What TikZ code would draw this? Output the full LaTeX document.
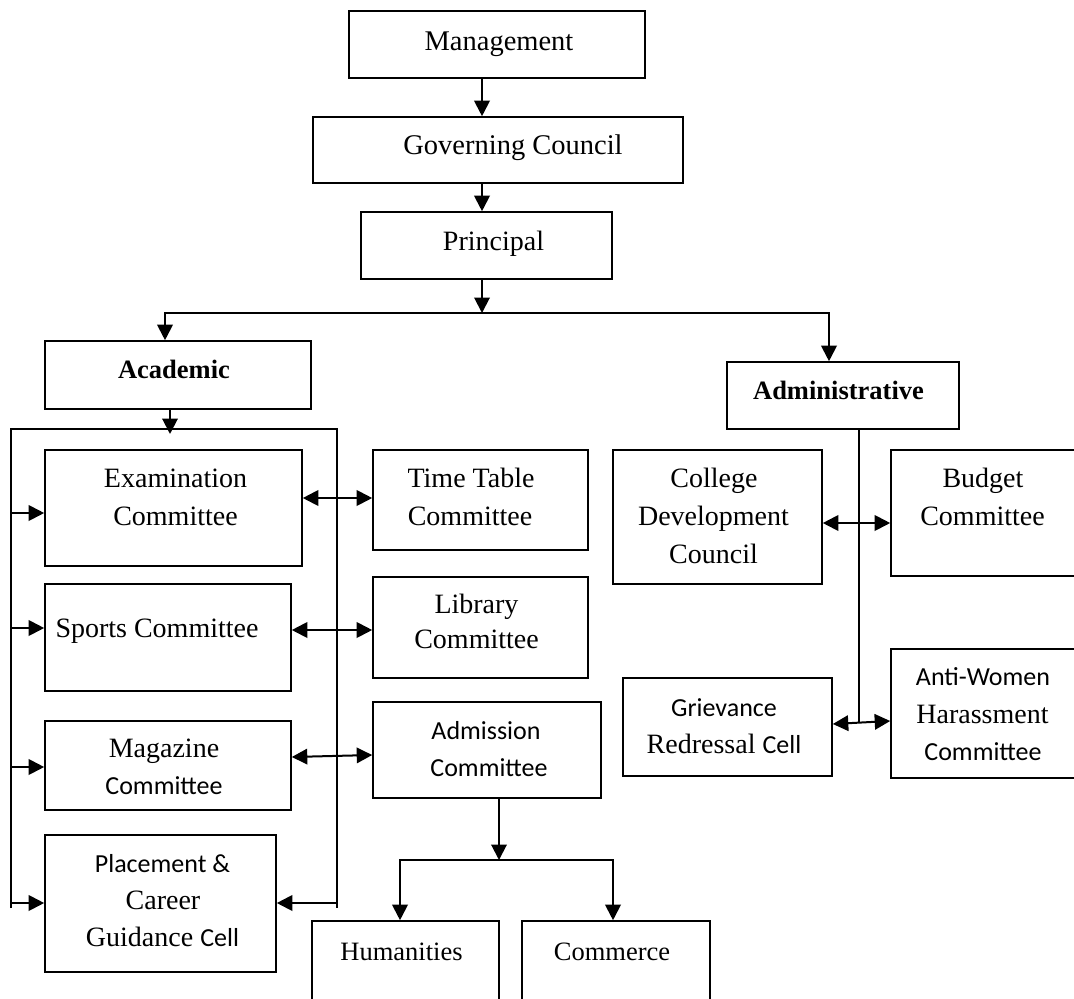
\documentclass[tikz,border=0pt]{standalone}
\usepackage{fontspec}
\setmainfont{Liberation Serif}
\newfontfamily\calib{Carlito}
\usetikzlibrary{arrows.meta}
\newcommand\snf{\calib\fontsize{26}{30}\selectfont}
\begin{document}
\begin{tikzpicture}[x=1pt,y=-1pt,
  box/.style={draw, line width=1.6pt, inner sep=0pt, rectangle},
  conn/.style={line width=2pt},
  arr/.style={conn, -{Triangle[length=15.5pt,width=15.5pt]}},
  darr/.style={conn, {Triangle[length=15.5pt,width=15.5pt]}-{Triangle[length=15.5pt,width=15.5pt]}},
  tm/.style={anchor=base, inner sep=0pt, font=\fontsize{28.5}{34}\selectfont},
  pal/.style={anchor=base, inner sep=0pt, font=\fontsize{28}{34}\selectfont},
  hc/.style={anchor=base, inner sep=0pt, font=\fontsize{26.5}{32}\selectfont},
  bft/.style={anchor=base, inner sep=0pt, font=\fontsize{26.5}{32}\selectfont\bfseries},
  sns/.style={anchor=base, inner sep=0pt, font=\snf}]
\useasboundingbox (0,0) rectangle (1074,999);
\clip (0,0) rectangle (1074,999);
% boxes
\node[box, minimum width=296pt, minimum height=67pt] (mgmt) at (497,44.5) {};
\node[box, minimum width=370pt, minimum height=66pt] (gov) at (498,150) {};
\node[box, minimum width=251pt, minimum height=67pt] (prin) at (486.5,245.5) {};
\node[box, minimum width=266pt, minimum height=68pt] (acad) at (178,375) {};
\node[box, minimum width=232pt, minimum height=67pt] (admin) at (843,395.5) {};
\node[box, minimum width=257pt, minimum height=116pt] (exam) at (173.5,508) {};
\node[box, minimum width=215pt, minimum height=100pt] (tt) at (480.5,500) {};
\node[box, minimum width=246pt, minimum height=107pt] (sports) at (168,637.5) {};
\node[box, minimum width=215pt, minimum height=101pt] (lib) at (480.5,627.5) {};
\node[box, minimum width=246pt, minimum height=89pt] (mag) at (168,765.5) {};
\node[box, minimum width=228pt, minimum height=96pt] (adm) at (487,750) {};
\node[box, minimum width=231pt, minimum height=137pt] (plc) at (160.5,903.5) {};
\node[box, minimum width=187pt, minimum height=89pt] (hum) at (405.5,965.5) {};
\node[box, minimum width=188pt, minimum height=89pt] (com) at (616,965.5) {};
\node[box, minimum width=209pt, minimum height=134pt] (cdc) at (717.5,517) {};
\node[box, minimum width=199pt, minimum height=126pt] (bud) at (990.5,513) {};
\node[box, minimum width=209pt, minimum height=98pt] (grv) at (727.5,727) {};
\node[box, minimum width=199pt, minimum height=129pt] (anti) at (990.5,713.5) {};
% texts
\node[tm] (t1) at (499,50) {Management};
\node[tm] (t2) at (513,154) {Governing Council};
\node[pal] (t3) at (493.5,250) {Principal};
\node[bft] (t4) at (174,378) {Academic};
\node[bft] (t5) at (838.5,399) {Administrative};
\node[pal] (t6a) at (175.5,487) {Examination};
\node[pal] (t6b) at (175.5,525) {Committee};
\node[pal] (t7a) at (471,487) {Time Table};
\node[pal] (t7b) at (470,525) {Committee};
\node[pal] (t8) at (157,637) {Sports Committee};
\node[pal] (t9a) at (476.5,613) {Library};
\node[pal] (t9b) at (476.5,648) {Committee};
\node[pal] (t10a) at (164,757) {Magazine};
\node[sns] (t10b) at (164,794) {Committee};
\node[sns] (t11a) at (486,739) {Admission};
\node[sns] (t11b) at (489,776) {Committee};
\node[sns] (t12a) at (162.5,872) {Placement \&};
\node[pal] (t12b) at (163,909) {Career};
\node[pal] (t12c) at (162.5,946) {Guidance {\snf Cell}};
\node[hc] (t13) at (401.5,960) {Humanities};
\node[hc] (t14) at (612,960) {Commerce};
\node[pal] (t15a) at (714,487) {College};
\node[pal] (t15b) at (713.5,525) {Development};
\node[pal] (t15c) at (713.5,563) {Council};
\node[pal] (t16a) at (983,487) {Budget};
\node[pal] (t16b) at (982.5,525) {Committee};
\node[sns] (t17a) at (724,716) {Grievance};
\node[pal] (t17b) at (724,753) {Redressal {\snf Cell}};
\node[sns] (t18a) at (983,685) {Anti-Women};
\node[pal] (t18b) at (982.5,723) {Harassment};
\node[sns] (t18c) at (983,760) {Committee};
% top chain
\draw[arr] (mgmt.south -| 482,0) -- (gov.north -| 482,0);
\draw[arr] (gov.south -| 482,0) -- (prin.north -| 482,0);
\coordinate (split) at (482,313);
\draw[arr] (prin.south -| split) -- (split);
\draw[arr] (split) -| (acad.north -| 165,0);
\draw[arr] (split) -| (admin.north -| 829,0);
% academic bracket
\coordinate (bkL) at (11,429);
\coordinate (bkR) at (337,429);
\coordinate (bkM) at (170,429);
\draw[arr] (acad.south -| bkM) -- ([yshift=-5pt]bkM);
\draw[conn] (11,908) -- (bkL) -- (bkR) -- (337,908);
\draw[arr] (bkL |- 0,513) -- (exam.west |- 0,513);
\draw[arr] (bkL |- 0,628) -- (sports.west |- 0,628);
\draw[arr] (bkL |- 0,767) -- (mag.west |- 0,767);
\draw[arr] (bkL |- 0,903) -- (plc.west |- 0,903);
\draw[arr] (bkR |- 0,903) -- (plc.east |- 0,903);
% academic pairs
\draw[darr] (exam.east |- 0,498) -- (tt.west |- 0,498);
\draw[darr] (sports.east |- 0,630) -- (lib.west |- 0,630);
\draw[darr] (mag.east |- 0,757) -- (adm.west |- 0,755);
% admission split
\coordinate (split2) at (499,860);
\draw[arr] (adm.south -| split2) -- (split2);
\draw[arr] (split2) -| (hum.north -| 400,0);
\draw[arr] (split2) -| (com.north -| 613,0);
% administrative
\coordinate (adbot) at (859,722);
\draw[conn] (admin.south -| adbot) -- (adbot);
\draw[darr] (cdc.east |- 0,523) -- (bud.west |- 0,523);
\draw[darr] (grv.east |- 0,724) -- (anti.west |- 0,721);
\end{tikzpicture}
\end{document}
